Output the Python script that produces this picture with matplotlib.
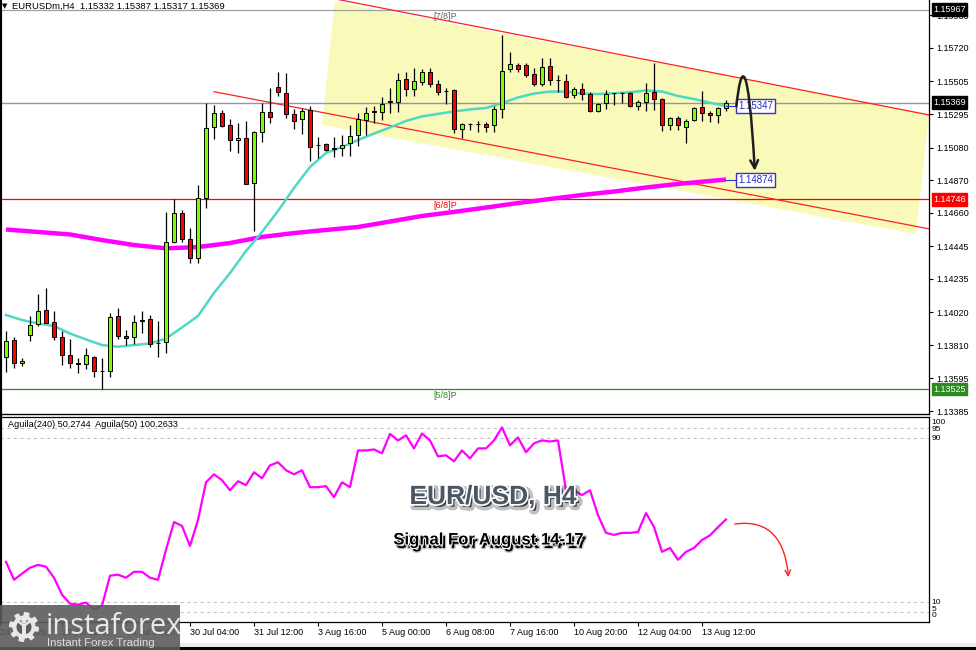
import matplotlib
matplotlib.use('Agg')
import matplotlib.pyplot as plt
import matplotlib.patches as patches
import matplotlib.patheffects as pe
from matplotlib.path import Path
import numpy as np

plt.rcParams['font.family'] = ['Liberation Sans', 'DejaVu Sans']

# EURUSD H4 bars (bar 0 = 24 Jul 2020)
opens = [1.13735, 1.13842, 1.13693, 1.13873, 1.13943, 1.14035, 1.13956, 1.13860, 1.13746, 1.13693,
         1.13688, 1.13735, 1.13645, 1.13645, 1.13999, 1.13868, 1.13864, 1.13965, 1.13976, 1.13823,
         1.13828, 1.14471, 1.14662, 1.14495, 1.14368, 1.14754, 1.15214, 1.15304, 1.15223, 1.15127,
         1.15139, 1.14850, 1.15182, 1.15310, 1.15467, 1.15433, 1.15294, 1.15262, 1.15321, 1.15096,
         1.15101, 1.15072, 1.15075, 1.15107, 1.15161, 1.15257, 1.15310, 1.15310, 1.15375, 1.15375,
         1.15519, 1.15454, 1.15503, 1.15564, 1.15487, 1.15446, 1.15450, 1.15199, 1.15230, 1.15232,
         1.15229, 1.15225, 1.15328, 1.15583, 1.15611, 1.15611, 1.15551, 1.15487, 1.15606, 1.15515,
         1.15510, 1.15418, 1.15454, 1.15422, 1.15315, 1.15364, 1.15428, 1.15430, 1.15433, 1.15349,
         1.15371, 1.15439, 1.15390, 1.15225, 1.15272, 1.15214, 1.15257, 1.15339, 1.15304, 1.15289,
         1.15332]
highs = [1.13902, 1.13864, 1.13727, 1.13997, 1.14136, 1.14175, 1.14029, 1.13902, 1.13847, 1.13725,
         1.13793, 1.13740, 1.13725, 1.14018, 1.14050, 1.13907, 1.14003, 1.14031, 1.14003, 1.13965,
         1.14664, 1.14747, 1.14678, 1.14561, 1.14839, 1.15364, 1.15353, 1.15321, 1.15262, 1.15240,
         1.15253, 1.15186, 1.15368, 1.15461, 1.15568, 1.15557, 1.15326, 1.15332, 1.15347, 1.15146,
         1.15107, 1.15146, 1.15161, 1.15225, 1.15304, 1.15343, 1.15347, 1.15408, 1.15461, 1.15559,
         1.15568, 1.15589, 1.15583, 1.15589, 1.15514, 1.15461, 1.15454, 1.15236, 1.15240, 1.15253,
         1.15246, 1.15347, 1.15804, 1.15696, 1.15622, 1.15622, 1.15589, 1.15654, 1.15654, 1.15546,
         1.15553, 1.15471, 1.15493, 1.15439, 1.15364, 1.15450, 1.15433, 1.15439, 1.15439, 1.15386,
         1.15497, 1.15622, 1.15397, 1.15278, 1.15283, 1.15262, 1.15343, 1.15445, 1.15317, 1.15339,
         1.15387]
lows = [1.13639, 1.13664, 1.13675, 1.13838, 1.13932, 1.13950, 1.13842, 1.13680, 1.13664, 1.13628,
        1.13658, 1.13607, 1.13525, 1.13603, 1.13851, 1.13810, 1.13817, 1.13889, 1.13796, 1.13735,
        1.13761, 1.14464, 1.14473, 1.14340, 1.14340, 1.14689, 1.15133, 1.15212, 1.15060, 1.15043,
        1.14843, 1.14545, 1.15118, 1.15236, 1.15413, 1.15268, 1.15199, 1.15167, 1.14995, 1.15011,
        1.15060, 1.15017, 1.15026, 1.15028, 1.15090, 1.15161, 1.15236, 1.15257, 1.15302, 1.15308,
        1.15411, 1.15411, 1.15482, 1.15471, 1.15418, 1.15360, 1.15172, 1.15139, 1.15193, 1.15182,
        1.15182, 1.15182, 1.15268, 1.15568, 1.15568, 1.15535, 1.15476, 1.15476, 1.15482, 1.15439,
        1.15397, 1.15397, 1.15386, 1.15310, 1.15310, 1.15326, 1.15353, 1.15368, 1.15343, 1.15321,
        1.15317, 1.15321, 1.15188, 1.15193, 1.15193, 1.15111, 1.15253, 1.15253, 1.15246, 1.15240,
        1.15317]
closes = [1.13838, 1.13693, 1.13707, 1.13937, 1.14029, 1.13954, 1.13860, 1.13744, 1.13693, 1.13690,
          1.13744, 1.13641, 1.13643, 1.13992, 1.13868, 1.13855, 1.13960, 1.13968, 1.13817, 1.13826,
          1.14475, 1.14661, 1.14495, 1.14368, 1.14754, 1.15204, 1.15304, 1.15218, 1.15128, 1.15139,
          1.14846, 1.15178, 1.15307, 1.15278, 1.15435, 1.15296, 1.15253, 1.15317, 1.15085, 1.15094,
          1.15064, 1.15075, 1.15096, 1.15156, 1.15262, 1.15300, 1.15312, 1.15362, 1.15376, 1.15517,
          1.15454, 1.15508, 1.15564, 1.15489, 1.15435, 1.15444, 1.15197, 1.15229, 1.15232, 1.15230,
          1.15214, 1.15328, 1.15574, 1.15615, 1.15583, 1.15546, 1.15487, 1.15600, 1.15514, 1.15513,
          1.15407, 1.15454, 1.15424, 1.15315, 1.15358, 1.15424, 1.15430, 1.15428, 1.15347, 1.15371,
          1.15433, 1.15390, 1.15225, 1.15272, 1.15225, 1.15253, 1.15336, 1.15300, 1.15289, 1.15332,
          1.15369]

# moving averages, sampled at bar indices
ma_fast_idx = list(range(0, 91, 2))
ma_fast = [1.14003, 1.13971, 1.13949, 1.13932, 1.13884, 1.13846, 1.13810, 1.13799, 1.13810, 1.13820,
           1.13852, 1.13923, 1.13997, 1.14145, 1.14273, 1.14415, 1.14537, 1.14672, 1.14820, 1.14955,
           1.15045, 1.15083, 1.15128, 1.15170, 1.15209, 1.15251, 1.15280, 1.15296, 1.15312, 1.15325,
           1.15334, 1.15366, 1.15402, 1.15427, 1.15440, 1.15439, 1.15427, 1.15424, 1.15429, 1.15435,
           1.15447, 1.15440, 1.15411, 1.15392, 1.15368, 1.15347]
ma_slow_idx = [0, 4, 8, 12, 16, 20, 24, 28, 32, 36, 40, 44, 48, 52, 56, 60, 64, 68, 72, 76, 80, 84, 88, 90]
ma_slow = [1.14553, 1.14537, 1.14521, 1.14485, 1.14453, 1.14432, 1.14440, 1.14466, 1.14505, 1.14530,
           1.14550, 1.14569, 1.14604, 1.14640, 1.14666, 1.14694, 1.14723, 1.14749, 1.14775, 1.14797,
           1.14823, 1.14846, 1.14865, 1.14874]

# Aguila(240) oscillator
aguila = [29.5, 20.7, 23.7, 26.6, 28.0, 27.1, 21.7, 13.4, 9.0, 8.5,
          9.5, 6.1, 8.0, 22.7, 23.2, 21.7, 24.6, 24.6, 21.7, 20.7,
          35.4, 49.0, 47.1, 37.3, 50.0, 68.5, 72.4, 69.5, 64.6, 69.0,
          67.1, 73.4, 70.5, 76.8, 78.3, 74.4, 72.4, 74.4, 66.1, 66.1,
          66.6, 61.2, 68.5, 66.1, 84.1, 84.1, 84.6, 82.7, 92.2, 89.0,
          91.5, 85.1, 92.4, 89.0, 81.2, 81.7, 78.8, 84.1, 80.2, 85.1,
          85.1, 89.0, 95.4, 86.6, 90.5, 83.2, 87.6, 89.0, 88.5, 89.0,
          64.6, 64.6, 62.2, 64.6, 52.4, 43.7, 42.7, 43.7, 43.7, 44.1,
          53.4, 46.6, 34.4, 36.3, 30.5, 34.4, 36.3, 40.2, 42.5, 46.5, 50.2744]
aguila50_last = 100.2633
osc_levels = [95, 90, 10, 5]

murrey_levels = [1.15967, 1.14746, 1.13525]
murrey_names = ['[7/8]P', '[6/8]P', '[5/8]P']
murrey_colors = ['#666666', '#ff0000', '#2a8c1c']
murrey_line_colors = ['#a0a0a0', '#ff0000', '#2a8c1c']

price_ticks = [1.15930, 1.15720, 1.15505, 1.15295, 1.15080, 1.14870, 1.14660,
               1.14445, 1.14235, 1.14020, 1.13810, 1.13595, 1.13385]
time_idx = [-0.7, 7, 15, 23, 31, 39, 47, 55, 63, 71, 79, 87]
time_labels = ['24 Jul 2020', '27 Jul 12:00', '28 Jul 20:00', '30 Jul 04:00', '31 Jul 12:00',
               '3 Aug 16:00', '5 Aug 00:00', '6 Aug 08:00', '7 Aug 16:00', '10 Aug 20:00',
               '12 Aug 04:00', '13 Aug 12:00']

# drawn objects: channel anchors (bar, price)
upper_ch = [(41.1, 1.16036), (111.75, 1.15326)]
lower_ch = [(26.0, 1.15439), (111.75, 1.14593)]
zone = [(41.1, 1.16016), (115.4, 1.15296), (113.75, 1.14524), (39.5, 1.15225)]

W, H = 976, 650
XMAX = 115.375
fig = plt.figure(figsize=(W / 100, H / 100), dpi=100)
ax = fig.add_axes([0, 1 - 414 / H, 929 / W, 414 / H])
ax2 = fig.add_axes([0, 1 - 622 / H, 929 / W, 205 / H])

idx = np.arange(len(opens))
o = np.array(opens); c = np.array(closes)

# ---- main chart
ax.set_xlim(-0.75, XMAX)
ax.set_ylim(1.133666, 1.160286)
ax.add_patch(patches.Polygon(zone, closed=True, fc='#f9f9b9', ec='none', zorder=0.5))

for lv, col in zip(murrey_levels, murrey_line_colors):
    ax.axhline(lv, color=col, lw=0.9, zorder=1)
for lv, nm, col in zip(murrey_levels, murrey_names, murrey_colors):
    ax.annotate(nm, (54.9, lv), xytext=(0, -2), textcoords='offset pixels',
                ha='center', va='top', fontsize=6.5, color=col, zorder=2)
ax.axhline(closes[-1], color='#8e98ac', lw=1, zorder=1)

for (x0, y0), (x1, y1) in (upper_ch, lower_ch):
    k = (y1 - y0) / (x1 - x0)
    ax.plot([x0, XMAX], [y0, y1 + k * (XMAX - x1)], color='#ff2020', lw=0.9, zorder=2)

ax.plot(ma_slow_idx, ma_slow, color='#ff00ff', lw=3.2, zorder=3, solid_capstyle='butt')
ax.plot(ma_fast_idx, ma_fast, color='#4fd8c8', lw=1.8, zorder=3)

ax.vlines(idx, lows, highs, color='black', lw=0.9, zorder=4)
body_col = np.where(c >= o, '#7cfc00', '#ff0000')
h = np.maximum(np.abs(c - o), 0.000015)
ax.bar(idx, h, bottom=np.minimum(o, c), width=0.6, color=body_col,
       edgecolor='black', linewidth=0.7, zorder=5)

# price labels of MA values
for yv in (ma_fast[-1], ma_slow[-1]):
    ax.plot([90, 91.4], [yv, yv], color='#3434c8', lw=0.8, zorder=6)
    ax.text(91.5, yv, f'{yv:.5f}', ha='left', va='center', fontsize=7, color='#2828c0',
            bbox=dict(boxstyle='square,pad=0.2', fc='white', ec='#3434c8', lw=1), zorder=7)

# forecast arrow
arrow_path = Path([(91.3, 1.15345), (91.9, 1.15640), (92.8, 1.15660), (93.6, 1.14930)],
                  [Path.MOVETO, Path.CURVE4, Path.CURVE4, Path.CURVE4])
ax.add_patch(patches.FancyArrowPatch(path=arrow_path, arrowstyle='->', mutation_scale=14,
                                     lw=1.8, color='#1e1e1e', zorder=8))

ax.yaxis.tick_right()
ax.set_yticks(price_ticks)
ax.set_yticklabels([f'{p:.5f}' for p in price_ticks])
ax.tick_params(axis='y', direction='out', length=3, width=0.8, pad=2, labelsize=6.5)
ax.set_xticks([])
ax.spines['top'].set_visible(False)
ax.spines['left'].set_linewidth(3)
ax.spines['right'].set_linewidth(0.9)
ax.spines['bottom'].set_linewidth(1)

tr = ax.get_yaxis_transform()
for val, col in ((murrey_levels[0], 'black'), (closes[-1], 'black'),
                 (murrey_levels[1], '#ff0000'), (murrey_levels[2], '#2a8c1c')):
    ax.text(1.0045, val, f'{val:.5f}', transform=tr, ha='left', va='center', fontsize=6.5,
            color='white', bbox=dict(boxstyle='square,pad=0.18', fc=col, ec=col),
            clip_on=False, zorder=20)

# ---- oscillator
ax2.set_xlim(-0.75, XMAX)
ax2.set_ylim(0, 100.5)
for lv in osc_levels:
    ax2.axhline(lv, color='#c4c4c4', lw=0.8, ls=(0, (3, 3)), zorder=1)
ax2.plot(idx, aguila, color='#ff00ff', lw=1.6, zorder=3)
red_path = Path([(91.1, 48.0), (95.5, 50.5), (97.4, 40.0), (97.8, 22.0)],
                [Path.MOVETO, Path.CURVE4, Path.CURVE4, Path.CURVE4])
ax2.add_patch(patches.FancyArrowPatch(path=red_path, arrowstyle='->', mutation_scale=10,
                                      lw=1, color='#ff2020', zorder=8))
ax2.text(0.3, 97.0, f'Aguila(240) {aguila[-1]:.4f}  Aguila(50) {aguila50_last:.4f}',
         ha='left', va='center', fontsize=6.6, zorder=5)
ax2.set_yticks([])
tr2 = ax2.get_yaxis_transform()
for lbl, yv in (('100', 98.0), ('95', 94.6), ('90', 90.0), ('10', 9.7), ('5', 6.1), ('0', 3.0)):
    ax2.text(1.003, yv, lbl, transform=tr2, ha='left', va='center', fontsize=6, clip_on=False)
ax2.set_xticks(time_idx)
ax2.set_xticklabels(time_labels)
for t in ax2.get_xticklabels():
    t.set_ha('left')
ax2.tick_params(axis='x', direction='out', length=3, width=0.8, pad=1.5, labelsize=6.5)
ax2.spines['left'].set_linewidth(3)
for side in ('top', 'right', 'bottom'):
    ax2.spines[side].set_linewidth(0.9)

# ---- overlay (pixel space)
ov = fig.add_axes([0, 0, 1, 1], zorder=10)
ov.set_xlim(0, W); ov.set_ylim(H, 0); ov.axis('off'); ov.patch.set_alpha(0)

ov.text(2, 6, '\u25bc', fontsize=5, va='center', ha='left', family='DejaVu Sans')
ov.text(12, 6, f'EURUSDm,H4  {opens[-1]:.5f} {highs[-1]:.5f} {lows[-1]:.5f} {closes[-1]:.5f}',
        fontsize=6.8, va='center', ha='left')

ov.add_patch(patches.Rectangle((0, 643), W, 4, fc='#ececec', ec='none'))
ov.add_patch(patches.Rectangle((0, 647), W, 3, fc='black', ec='none'))

ov.text(493, 497, 'EUR/USD, H4', ha='center', va='center', fontsize=19, weight='bold',
        color='#4c5763', path_effects=[pe.Stroke(linewidth=5, foreground=(0, 0, 0, 0.25), offset=(2, -2)),
                                       pe.Stroke(linewidth=2.5, foreground='white'), pe.Normal()])
ov.text(488, 540, 'Signal For August 14-17', ha='center', va='center', fontsize=12, weight='bold',
        color='black', path_effects=[pe.Stroke(linewidth=2, foreground=(0, 0, 0, 0.22), offset=(2, -2.5)),
                                     pe.Stroke(linewidth=1.5, foreground='white'), pe.Normal()])

# instaforex logo
ov.add_patch(patches.Rectangle((0, 605), 180, 45, fc='#5c5c5c', ec='none', alpha=0.9))
ang = np.linspace(0, 2 * np.pi, 97)
rad = np.where((np.floor(ang / (2 * np.pi / 16)) % 2) == 0, 15, 11.5)
ov.add_patch(patches.Polygon(np.c_[24 + rad * np.cos(ang), 627 + rad * np.sin(ang)], fc='#e8e8e8', ec='none'))
ov.add_patch(patches.Circle((24, 627), 7.5, fc='#5c5c5c', ec='none'))
ov.add_patch(patches.Circle((24, 621), 2.6, fc='#e8e8e8', ec='none'))
ov.add_patch(patches.Polygon([(17, 622), (22, 626), (22, 636), (26, 636), (26, 626), (31, 622), (30, 620),
                              (24, 624), (18, 620)], fc='#e8e8e8', ec='none'))
ov.text(46, 626, 'instaforex', ha='left', va='center', fontsize=21, color='#e8e8e8', family='Open Sans')
ov.text(47, 643, 'Instant Forex Trading', ha='left', va='center', fontsize=8.2, color='#e0e0e0')

fig.savefig('out.png', dpi=100)
